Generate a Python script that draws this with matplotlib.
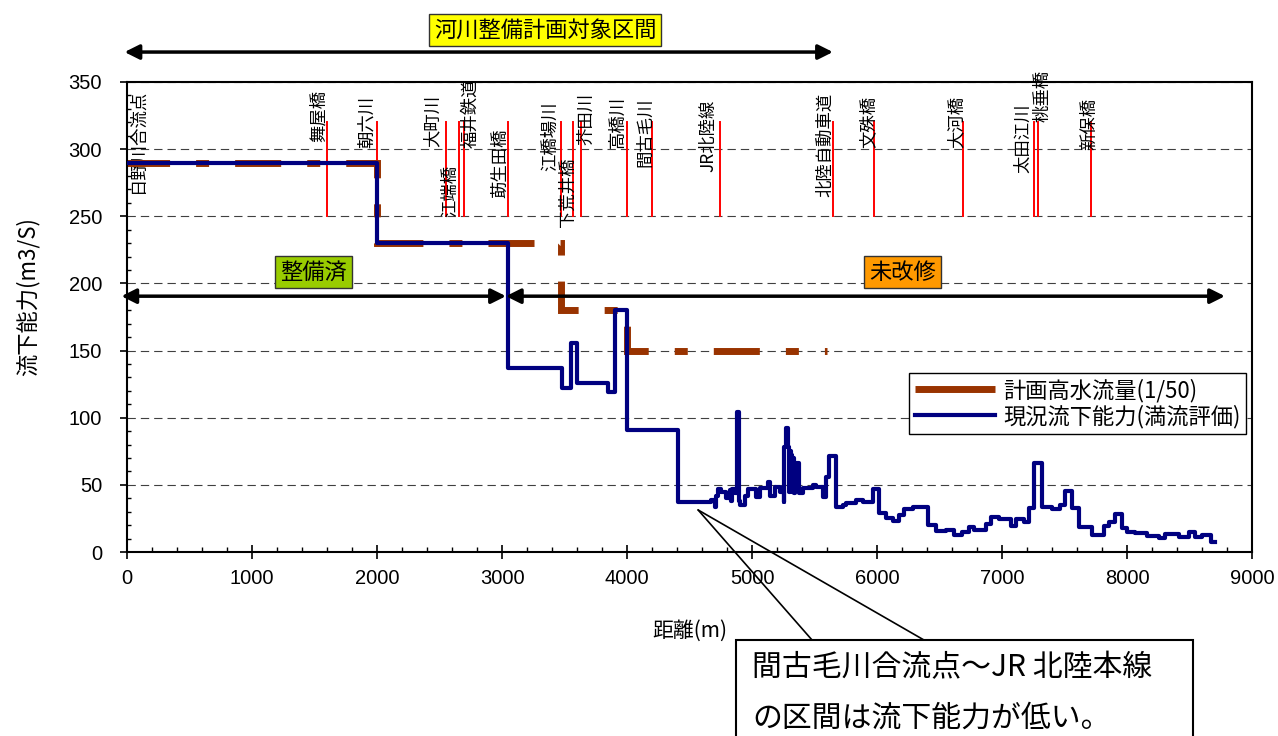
import matplotlib
matplotlib.use('Agg')
import matplotlib.pyplot as plt
from matplotlib.lines import Line2D
from matplotlib.patches import Rectangle
from matplotlib.ticker import MultipleLocator
import matplotlib.transforms as mtrans

plt.rcParams['font.family'] = ['Noto Sans CJK JP', 'DejaVu Sans']

# ---------------- data ----------------
landmark_names = ['日野川合流点', '舞屋橋', '朝六川', '大町川', '江端橋', '福井鉄道', '莇生田橋',
                  '江橋場川', '下荒井橋', '芥田川', '高橋川', '間古毛川', 'JR北陸線', '北陸自動車道',
                  '文殊橋', '大河橋', '太田江川', '桃垂橋', '新保橋']
landmark_x = [0, 1600, 2000, 2550, 2655, 2695, 3045, 3470, 3565, 3630, 4000, 4200, 4740,
              5645, 5975, 6685, 7253, 7285, 7709]
landmark_ymin, landmark_ymax = 250, 320

plan_x = [0, 2000, 2000, 3470, 3470, 4000, 4000, 5600]
plan_y = [290, 290, 230, 230, 180, 180, 150, 150]

cap_x = [0, 2000, 3045, 3480, 3550, 3600, 3850, 3905, 4000, 4405, 4672, 4699, 4712, 4725,
         4752, 4792, 4818, 4830, 4840, 4858, 4878, 4890, 4905, 4938, 4965, 5031, 5058, 5124,
         5138, 5178, 5218, 5252, 5257, 5271, 5284, 5295, 5302, 5311, 5320, 5327, 5337, 5345,
         5375, 5404, 5484, 5510, 5563, 5590, 5615, 5670, 5723, 5750, 5829, 5883, 5962, 6015,
         6069, 6122, 6175, 6215, 6282, 6402, 6468, 6547, 6614, 6680, 6734, 6774, 6867, 6907,
         6973, 7066, 7106, 7173, 7213, 7253, 7319, 7399, 7465, 7505, 7558, 7612, 7718, 7812,
         7851, 7904, 7958, 7998, 8064, 8157, 8250, 8303, 8410, 8490, 8543, 8596, 8670, 8700]
cap_y = [290, 230, 137, 122, 156, 126, 119, 180, 91, 37, 38.7, 33.5, 42, 47,
         45, 40, 46, 38, 47, 44, 104, 38, 35, 42, 47, 41, 47.6, 52,
         42, 48.6, 45, 37, 78, 92, 78, 45, 75, 72, 45, 70, 44, 66,
         44, 47.6, 50, 48.6, 41, 56, 71.5, 33.7, 35, 36.7, 38.7, 37, 47, 29,
         25, 23, 27.5, 32, 33.5, 20, 15.6, 16.4, 13, 15, 18.6, 16.4, 20.8, 26.3,
         24.5, 19.4, 24.5, 22.6, 33, 66, 33.5, 32, 35, 45.7, 32.8, 18.6, 12.7, 19.4,
         22.6, 28.3, 17.6, 15, 14, 12, 10.4, 13.4, 11.4, 14.9, 11.4, 12.7, 7.7, 7.7]

legend_labels = ['計画高水流量(1/50)', '現況流下能力(満流評価)']
x_ticks = list(range(0, 9001, 1000))
y_ticks = list(range(0, 351, 50))

# ---------------- layout (label offsets: px, bottom y) ----------------
label_layout = [(11, 267), (-8, 305), (-10, 301), (-13, 301.5), (-9, 249.5), (6, 301),
                (-8, 263.6), (-11, 284), (-5, 242), (5, 303), (-9, 301), (-7, 286.7),
                (-11, 283), (-8, 264), (-6, 301), (-6, 301), (-11, 282), (4, 320), (-2, 299)]

fig = plt.figure(figsize=(12.78, 7.36), dpi=100)
ax = fig.add_axes([0.0994, 0.25, 0.8806, 0.6386])
ax.set_xlim(0, 9000)
ax.set_ylim(0, 350)

ax.set_axisbelow(True)
ax.yaxis.grid(True, which='major', linestyle=(0, (7.5, 4.5)), color='#404040', linewidth=0.8)

# landmark lines and labels
for name, x, (dx, yb) in zip(landmark_names, landmark_x, label_layout):
    ax.plot([x, x], [landmark_ymin, landmark_ymax], color='#FF0000', lw=1.4, zorder=1.5)
    tr = ax.transData + mtrans.ScaledTranslation(dx / 100.0, 0, fig.dpi_scale_trans)
    ax.text(x, yb, name, rotation=90, ha='center', va='bottom', fontsize=12.5,
            transform=tr, zorder=1.8)

# plan flow (dashed brown)
ax.plot(plan_x, plan_y, color='#993300', lw=5, linestyle=(0.5, (6.63, 3.75, 1.87, 3.75)),
        dash_capstyle='butt', dash_joinstyle='miter', zorder=2)
# current capacity (navy steps)
ax.step(cap_x, cap_y, where='post', color='#000080', lw=3, zorder=3)

# ticks
ax.set_xticks(x_ticks)
ax.set_yticks(y_ticks)
ax.xaxis.set_minor_locator(MultipleLocator(200))
ax.yaxis.set_minor_locator(MultipleLocator(10))
ax.tick_params(axis='x', which='major', direction='inout', length=9.5, width=1.2, pad=7.5, labelsize=14.5)
ax.tick_params(axis='x', which='minor', direction='in', length=3.5, width=1)
ax.tick_params(axis='y', which='major', direction='out', length=5, width=1.2, pad=13, labelsize=14.5)
ax.tick_params(axis='y', which='minor', direction='in', length=3, width=1)
for lab in ax.get_xticklabels() + ax.get_yticklabels():
    lab.set_fontfamily('Liberation Sans')
for sp in ax.spines.values():
    sp.set_linewidth(1.5)
    sp.set_color('black')

ax.set_ylabel('流下能力(m3/S)', fontsize=16)
ax.yaxis.set_label_coords(-0.0773, 0.5426)
ax.set_xlabel('距離(m)', fontsize=15)
ax.xaxis.set_label_coords(0.5, -0.1447)

# legend
handles = [Line2D([], [], color='#993300', lw=5, solid_capstyle='butt'),
           Line2D([], [], color='#000080', lw=3)]
leg = ax.legend(handles, legend_labels, loc='upper right', bbox_to_anchor=(0.9947, 0.3809),
                fontsize=16, frameon=True, fancybox=False, edgecolor='black', framealpha=1,
                borderaxespad=0, handlelength=3.6, handletextpad=0.4, borderpad=0.25,
                labelspacing=0.1)
leg.get_frame().set_linewidth(1.0)
leg.set_zorder(6)

# arrows
arrow_kw = dict(arrowstyle='<|-|>', color='black', lw=2.5, mutation_scale=22, shrinkA=0, shrinkB=0)
ax.annotate('', xy=(5645, 372.3), xytext=(-20, 372.3), arrowprops=arrow_kw, annotation_clip=False)
ax.annotate('', xy=(3030, 190.5), xytext=(-45, 190.5), arrowprops=arrow_kw, annotation_clip=False, zorder=4)
ax.annotate('', xy=(8780, 190.5), xytext=(3030, 190.5), arrowprops=arrow_kw, annotation_clip=False, zorder=4)

ax.text(3343, 388.7, '河川整備計画対象区間', ha='center', va='center', fontsize=16,
        bbox=dict(boxstyle='square,pad=0.22', fc='#FFFF00', ec='#333333', lw=1), clip_on=False)
ax.text(1490, 208.5, '整備済', ha='center', va='center', fontsize=16,
        bbox=dict(boxstyle='square,pad=0.22', fc='#99CC00', ec='#333333', lw=1), zorder=5)
ax.text(6200, 208.5, '未改修', ha='center', va='center', fontsize=16,
        bbox=dict(boxstyle='square,pad=0.22', fc='#FF9900', ec='#333333', lw=1), zorder=5)

# callout
fig.add_artist(Rectangle((0.5759, -0.1), 0.9335 - 0.5759, 0.1304 + 0.1, transform=fig.transFigure,
                         facecolor='white', edgecolor='black', lw=1.5, zorder=5))
for fx in (0.6354, 0.7230):
    ax.annotate('', xy=(4567, 31.3), xycoords='data', xytext=(fx, 0.1304), textcoords='figure fraction',
                arrowprops=dict(arrowstyle='-', color='black', lw=1.2, shrinkA=0, shrinkB=0),
                annotation_clip=False)
fig.text(752 / 1278, 0.0924, '間古毛川合流点～JR 北陸本線', ha='left', va='center', fontsize=21.5, zorder=6)
fig.text(752 / 1278, 0.0245, 'の区間は流下能力が低い。', ha='left', va='center', fontsize=21.5, zorder=6)

fig.savefig('out.png', dpi=100)
